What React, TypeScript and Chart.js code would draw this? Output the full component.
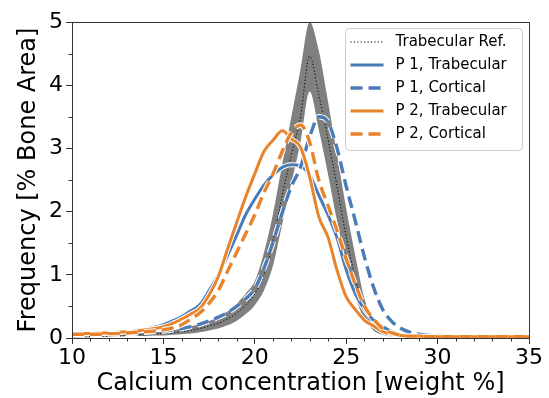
import React, { useEffect, useRef } from "react";
import { Chart, registerables } from "chart.js";

Chart.register(...registerables);

// ---------- data ----------
const xs = [
  10, 10.5, 11, 11.5, 12, 12.5, 13, 13.5, 14, 14.5,
  15, 15.5, 16, 16.5, 17, 17.5, 18, 18.5, 19, 19.5,
  20, 20.5, 21, 21.5, 22, 22.5, 23, 23.5, 24, 24.5,
  25, 25.5, 26, 26.5, 27, 27.5, 28, 28.5, 29, 29.5,
  30, 30.5, 31, 31.5, 32, 32.5, 33, 33.5, 34, 34.5, 35,
];

const refMean = [
  0.02, 0.02, 0.02, 0.03, 0.03, 0.03, 0.04, 0.05, 0.05, 0.06,
  0.07, 0.08, 0.10, 0.12, 0.15, 0.19, 0.23, 0.30, 0.39, 0.52,
  0.70, 1.00, 1.55, 2.25, 2.90, 3.50, 4.46, 3.85, 3.15, 2.40,
  1.60, 0.95, 0.45, 0.20, 0.08, 0.04, 0.02, 0.02, 0.01, 0.01,
  0.01, 0.01, 0.01, 0.01, 0.01, 0.01, 0.01, 0.01, 0.01, 0.01, 0.01,
];

const refUpper = [
  0.03, 0.03, 0.03, 0.04, 0.04, 0.05, 0.06, 0.07, 0.08, 0.09,
  0.10, 0.12, 0.15, 0.18, 0.22, 0.27, 0.33, 0.42, 0.54, 0.70,
  0.90, 1.35, 1.97, 2.75, 3.50, 4.25, 5.00, 4.55, 3.75, 2.90,
  2.05, 1.30, 0.62, 0.30, 0.13, 0.06, 0.03, 0.02, 0.02, 0.01,
  0.01, 0.01, 0.01, 0.01, 0.01, 0.01, 0.01, 0.01, 0.01, 0.01, 0.01,
];

const refLower = [
  0.01, 0.01, 0.01, 0.02, 0.02, 0.02, 0.03, 0.03, 0.03, 0.04,
  0.04, 0.05, 0.06, 0.07, 0.09, 0.12, 0.15, 0.20, 0.27, 0.38,
  0.52, 0.75, 1.15, 1.80, 2.45, 3.10, 3.90, 3.30, 2.60, 1.85,
  1.20, 0.65, 0.30, 0.12, 0.05, 0.02, 0.01, 0.00, 0.00, 0.00,
  0.00, 0.00, 0.00, 0.00, 0.00, 0.00, 0.00, 0.00, 0.00, 0.00, 0.00,
];

const p1Trabecular = [
  0.06, 0.06, 0.07, 0.07, 0.08, 0.09, 0.10, 0.12, 0.14, 0.17,
  0.21, 0.27, 0.34, 0.43, 0.53, 0.75, 1.00, 1.30, 1.62, 1.95,
  2.20, 2.42, 2.58, 2.70, 2.74, 2.72, 2.58, 2.26, 1.95, 1.58,
  1.08, 0.70, 0.45, 0.28, 0.18, 0.10, 0.05, 0.04, 0.03, 0.03,
  0.02, 0.02, 0.02, 0.02, 0.02, 0.02, 0.02, 0.02, 0.02, 0.02, 0.02,
];

const p1Cortical = [
  0.04, 0.04, 0.05, 0.05, 0.05, 0.06, 0.07, 0.08, 0.09, 0.10,
  0.11, 0.13, 0.15, 0.18, 0.22, 0.27, 0.33, 0.40, 0.50, 0.62,
  0.78, 1.10, 1.52, 1.98, 2.40, 2.70, 3.18, 3.50, 3.42, 3.00,
  2.40, 1.85, 1.28, 0.80, 0.45, 0.26, 0.15, 0.09, 0.06, 0.04,
  0.03, 0.03, 0.02, 0.02, 0.02, 0.02, 0.02, 0.02, 0.02, 0.02, 0.02,
];

const p2Trabecular = [
  0.07, 0.07, 0.07, 0.08, 0.08, 0.09, 0.10, 0.11, 0.13, 0.15,
  0.18, 0.23, 0.30, 0.38, 0.47, 0.68, 0.97, 1.40, 1.82, 2.23,
  2.60, 2.95, 3.13, 3.28, 3.15, 3.02, 2.55, 1.92, 1.60, 1.07,
  0.65, 0.45, 0.28, 0.19, 0.10, 0.06, 0.04, 0.03, 0.03, 0.02,
  0.02, 0.02, 0.02, 0.02, 0.02, 0.02, 0.02, 0.02, 0.02, 0.02, 0.02,
];

const p2Cortical = [
  0.06, 0.06, 0.06, 0.06, 0.07, 0.07, 0.08, 0.09, 0.10, 0.11,
  0.13, 0.16, 0.21, 0.30, 0.40, 0.55, 0.75, 1.05, 1.35, 1.65,
  1.95, 2.30, 2.60, 2.95, 3.25, 3.37, 3.10, 2.50, 2.10, 1.70,
  1.25, 0.85, 0.50, 0.30, 0.15, 0.08, 0.04, 0.03, 0.03, 0.02,
  0.02, 0.02, 0.02, 0.02, 0.02, 0.02, 0.02, 0.02, 0.02, 0.02, 0.02,
];

const xTicks = [10, 15, 20, 25, 30, 35];
const yTicks = [0, 1, 2, 3, 4, 5];
const xMinorTicks = [11, 12, 13, 14, 16, 17, 18, 19, 21, 22, 23, 24, 26, 27, 28, 29, 31, 32, 33, 34];
const yMinorTicks = [0.5, 1.5, 2.5, 3.5, 4.5];

const legendLabels = [
  "Trabecular Ref.",
  "P 1, Trabecular",
  "P 1, Cortical",
  "P 2, Trabecular",
  "P 2, Cortical",
];

const xTitle = "Calcium concentration [weight %]";
const yTitle = "Frequency [% Bone Area]";

// ---------- styles ----------
const BLUE = "#4a7bb7";
const ORANGE = "#e8822b";
const GRAY = "#808080";
const AXIS = "#333333";
const FONT = "'DejaVu Sans', 'Liberation Sans', sans-serif";
const DASH = [12, 6];
const DOT = [1.2, 2.2];
const SOLID_W = 3;
const DASH_W = 3.4;

const pts = (ys: number[]) => xs.map((x, i) => ({ x, y: ys[i] }));

const legendItems = [
  { color: "#000000", width: 1, dash: DOT },
  { color: BLUE, width: SOLID_W, dash: [] as number[] },
  { color: BLUE, width: DASH_W, dash: DASH },
  { color: ORANGE, width: SOLID_W, dash: [] as number[] },
  { color: ORANGE, width: DASH_W, dash: DASH },
];

const framePlugin = {
  id: "frameAndMinor",
  afterDraw(chart: any) {
    const { ctx, chartArea } = chart;
    const xs_ = chart.scales.x;
    const ys_ = chart.scales.y;
    ctx.save();
    ctx.strokeStyle = AXIS;
    ctx.lineWidth = 1;
    ctx.setLineDash([]);
    // minor ticks
    ctx.beginPath();
    xMinorTicks.forEach((v) => {
      const px = Math.round(xs_.getPixelForValue(v)) + 0.5;
      ctx.moveTo(px, chartArea.bottom);
      ctx.lineTo(px, chartArea.bottom + 3.5);
    });
    yMinorTicks.forEach((v) => {
      const py = Math.round(ys_.getPixelForValue(v)) + 0.5;
      ctx.moveTo(chartArea.left, py);
      ctx.lineTo(chartArea.left - 3.5, py);
    });
    ctx.stroke();
    // frame
    ctx.strokeRect(
      Math.round(chartArea.left) + 0.5,
      Math.round(chartArea.top) + 0.5,
      Math.round(chartArea.right - chartArea.left),
      Math.round(chartArea.bottom - chartArea.top)
    );

    // legend
    const bw = 177;
    const bh = 122;
    const bx = Math.round(chartArea.right) - 7 - bw + 0.5;
    const by = Math.round(chartArea.top) + 6 + 0.5;
    const r = 4;
    ctx.beginPath();
    ctx.moveTo(bx + r, by);
    ctx.lineTo(bx + bw - r, by);
    ctx.arcTo(bx + bw, by, bx + bw, by + r, r);
    ctx.lineTo(bx + bw, by + bh - r);
    ctx.arcTo(bx + bw, by + bh, bx + bw - r, by + bh, r);
    ctx.lineTo(bx + r, by + bh);
    ctx.arcTo(bx, by + bh, bx, by + bh - r, r);
    ctx.lineTo(bx, by + r);
    ctx.arcTo(bx, by, bx + r, by, r);
    ctx.closePath();
    ctx.fillStyle = "rgba(255,255,255,0.8)";
    ctx.fill();
    ctx.strokeStyle = "#cccccc";
    ctx.lineWidth = 1;
    ctx.stroke();

    ctx.font = `15px ${FONT}`;
    ctx.textBaseline = "middle";
    ctx.textAlign = "left";
    legendItems.forEach((it, i) => {
      const y = by + 13.5 + i * 23;
      ctx.beginPath();
      ctx.setLineDash(it.dash);
      ctx.lineWidth = it.width;
      ctx.strokeStyle = it.color;
      ctx.moveTo(bx + 5, y);
      ctx.lineTo(bx + 38, y);
      ctx.stroke();
      ctx.setLineDash([]);
      ctx.fillStyle = "#000000";
      ctx.fillText(legendLabels[i], bx + 50, y + 0.5);
    });
    ctx.restore();
  },
};

export default function App() {
  const ref = useRef<HTMLCanvasElement | null>(null);

  useEffect(() => {
    document.body.style.margin = "0";
    if (!ref.current) return;

    const common = {
      pointRadius: 0,
      pointHoverRadius: 0,
      cubicInterpolationMode: "monotone" as const,
      fill: false,
    };
    const halo = (ys: number[], order: number, width: number, dash: number[]) => ({
      ...common,
      data: pts(ys),
      borderColor: "#ffffff",
      borderWidth: width + 2,
      borderDash: dash,
      order,
    });

    const chart = new Chart(ref.current, {
      type: "line",
      data: {
        datasets: [
          {
            ...common,
            label: "upper",
            data: pts(refUpper),
            borderWidth: 0,
            borderColor: GRAY,
            backgroundColor: GRAY,
            fill: "+1",
            order: 100,
          },
          {
            ...common,
            label: "lower",
            data: pts(refLower),
            borderWidth: 0,
            borderColor: GRAY,
            order: 99,
          },
          {
            ...common,
            label: legendLabels[0],
            data: pts(refMean),
            borderColor: "#000000",
            borderWidth: 1,
            borderDash: DOT,
            order: 90,
          },
          halo(p1Trabecular, 81, SOLID_W, []),
          {
            ...common,
            label: legendLabels[1],
            data: pts(p1Trabecular),
            borderColor: BLUE,
            borderWidth: SOLID_W,
            order: 80,
          },
          halo(p1Cortical, 71, DASH_W, DASH),
          {
            ...common,
            label: legendLabels[2],
            data: pts(p1Cortical),
            borderColor: BLUE,
            borderWidth: DASH_W,
            borderDash: DASH,
            order: 70,
          },
          halo(p2Trabecular, 61, SOLID_W, []),
          {
            ...common,
            label: legendLabels[3],
            data: pts(p2Trabecular),
            borderColor: ORANGE,
            borderWidth: SOLID_W,
            order: 60,
          },
          halo(p2Cortical, 51, DASH_W, DASH),
          {
            ...common,
            label: legendLabels[4],
            data: pts(p2Cortical),
            borderColor: ORANGE,
            borderWidth: DASH_W,
            borderDash: DASH,
            order: 50,
          },
        ],
      },
      options: {
        animation: false,
        responsive: true,
        maintainAspectRatio: false,
        events: [],
        layout: { padding: { top: 22, right: 20, left: 0, bottom: 0 } },
        plugins: {
          legend: { display: false },
          tooltip: { enabled: false },
        },
        scales: {
          x: {
            type: "linear",
            min: 10,
            max: 35,
            afterBuildTicks: (s: any) => {
              s.ticks = xTicks.map((v) => ({ value: v }));
            },
            afterFit: (s: any) => {
              s.height = 60;
            },
            ticks: {
              font: { family: FONT, size: 22 },
              color: "#000000",
              padding: 1,
              maxRotation: 0,
              autoSkip: false,
            },
            grid: {
              drawOnChartArea: false,
              drawTicks: true,
              tickLength: 6,
              color: AXIS,
            },
            border: { display: false },
            title: {
              display: true,
              text: xTitle,
              font: { family: FONT, size: 24 },
              color: "#000000",
              padding: { top: 0, bottom: 0 },
            },
          },
          y: {
            type: "linear",
            min: 0,
            max: 5,
            afterBuildTicks: (s: any) => {
              s.ticks = yTicks.map((v) => ({ value: v }));
            },
            afterFit: (s: any) => {
              s.width = 72;
            },
            ticks: {
              font: { family: FONT, size: 22 },
              color: "#000000",
              padding: 3,
            },
            grid: {
              drawOnChartArea: false,
              drawTicks: true,
              tickLength: 6,
              color: AXIS,
            },
            border: { display: false },
            title: {
              display: true,
              text: yTitle,
              font: { family: FONT, size: 24 },
              color: "#000000",
              padding: { top: 14, bottom: 0 },
            },
          },
        },
      },
      plugins: [framePlugin],
    });

    return () => chart.destroy();
  }, []);

  return (
    <div style={{ width: 549, height: 398, position: "relative" }}>
      <canvas ref={ref} />
    </div>
  );
}
